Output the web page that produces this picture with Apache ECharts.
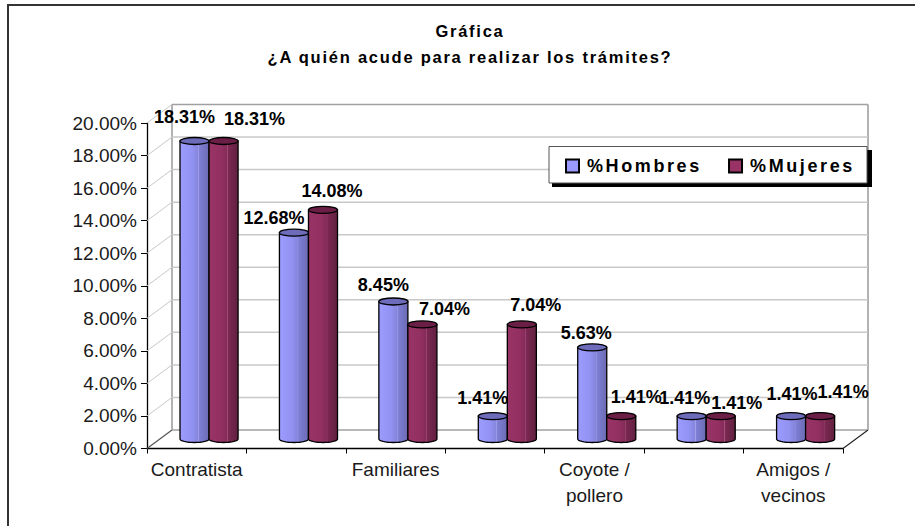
<!DOCTYPE html>
<html><head><meta charset="utf-8">
<style>
html,body{margin:0;padding:0;background:#fff}
#c{width:915px;height:526px}
text[style*="16.5px"]{letter-spacing:1.75px}
text[style*="18.01px"]{letter-spacing:2.6px}
</style>
<script src="https://cdn.jsdelivr.net/npm/echarts@6/dist/echarts.min.js"></script>
</head><body><div id="c"></div>
<script>
const categories = ['Contratista', '', 'Familiares', '', 'Coyote /\npollero', '', 'Amigos /\nvecinos'];
const hombres = [18.31, 12.68, 8.45, 1.41, 5.63, 1.41, 1.41];
const mujeres = [18.31, 14.08, 7.04, 7.04, 1.41, 1.41, 1.41];
const wallTicks = [0, 2, 4, 6, 8, 10, 12, 14, 16, 18, 20];
const titleText = 'Gráfica\n¿A quién acude para realizar los trámites?';

const FONT = '"Liberation Sans", Arial, sans-serif';
const nudgeH = [[-10,-25],[-20,-16],[-10,-17],[-10,-19],[-6,-15],[-7,-19],[1,-23]];
const nudgeM = [[31,-23],[9,-20],[22,-16],[14,-20],[15,-20],[16,-14],[23,-25]];

const G = echarts.graphic;
const gradH = () => new G.LinearGradient(0,0,1,0,[
  {offset:0,color:'#9c9cff'},{offset:.42,color:'#9292f2'},{offset:.62,color:'#8585dc'},
  {offset:.63,color:'#a4a4ec'},{offset:.66,color:'#7f7fd6'},{offset:1,color:'#6a6ab2'}]);
const gradM = () => new G.LinearGradient(0,0,1,0,[
  {offset:0,color:'#993366'},{offset:.42,color:'#933062'},{offset:.62,color:'#842b58'},
  {offset:.63,color:'#a5537e'},{offset:.66,color:'#7c2852'},{offset:1,color:'#60203f'}]);

function cylinder(isM, nudges){
  return function(params, api){
    const i = api.value(0), v = api.value(1);
    const band = api.size([1,0])[0];
    const w = band * 0.292;
    const c = api.coord([i, v]);
    const base = api.coord([i, 0]);
    const dOff = band * 0.124, lift = 9.5, ry = 3.5;
    const x0 = c[0] + dOff + (isM ? 0 : -w), x1 = x0 + w, xc = x0 + w/2;
    const top = c[1] - lift, bot = base[1] - lift;
    const pts = [[x0, top], [x0, bot]];
    for (let k = 1; k < 16; k++) {
      const t = Math.PI * k / 16;
      pts.push([xc - Math.cos(t) * w/2, bot + Math.sin(t) * ry]);
    }
    pts.push([x1, bot], [x1, top]);
    const n = nudges[i];
    return {type:'group', children:[
      {type:'polygon', shape:{points:pts},
       style:{fill:isM?gradM():gradH(), stroke:'#000', lineWidth:1.3}},
      {type:'ellipse', shape:{cx:xc, cy:top, rx:w/2, ry:ry},
       style:{fill:isM?'#6b1f47':'#6c6cba', stroke:'#000', lineWidth:1.3}},
      {type:'text', z2:50, style:{x:xc+n[0], y:top+n[1]+1, text:v.toFixed(2)+'%', align:'center', verticalAlign:'middle',
        font:'bold 18px '+FONT, fill:'#000'}}
    ]};
  };
}

function wall(params, api){
  const v = api.value(0);
  const p = api.coord([0, v]);
  const band = api.size([1,0])[0];
  const dx = 25, dy = -18.5;
  const xL = p[0] - band/2, xR = xL + band*categories.length;
  const y = p[1];
  const isEdge = v === 0;
  const children = [
    {type:'line', shape:{x1:xL, y1:y, x2:xL+dx, y2:y+dy},
      style:{stroke:isEdge?'#555':'#c8c8c8', lineWidth:isEdge?1.2:1}},
    {type:'line', shape:{x1:xL+dx, y1:y+dy, x2:xR+dx, y2:y+dy},
      style:{stroke:isEdge||v===20?'#a0a0a0':'#c8c8c8', lineWidth:1.5}}
  ];
  if (isEdge) {
    const yT = api.coord([0, 20])[1];
    children.push(
      {type:'line', shape:{x1:xR, y1:y, x2:xR+dx, y2:y+dy}, style:{stroke:'#222', lineWidth:1.1}},
      {type:'line', shape:{x1:xL+dx, y1:y+dy, x2:xL+dx, y2:yT+dy}, style:{stroke:'#999', lineWidth:1.5}},
      {type:'line', shape:{x1:xR+dx, y1:y+dy, x2:xR+dx, y2:yT+dy}, style:{stroke:'#999', lineWidth:1.5}}
    );
  }
  return {type:'group', children};
}

const chart = echarts.init(document.getElementById('c'), null, {renderer:'svg', width:915, height:526});
chart.setOption({
  animation:false,
  backgroundColor:'#fff',
  title:{text:titleText, left:465, top:13, textAlign:'center',
    textStyle:{fontFamily:FONT, fontWeight:'bold', fontSize:'16.5px', lineHeight:26, color:'#000'}},
  grid:{left:147, top:123, width:696, height:325.5},
  legend:{data:['%Hombres','%Mujeres'], left:565, top:157, padding:0, itemWidth:13, itemHeight:13, itemGap:47, z:20,
    icon:'rect', selectedMode:false,
    textStyle:{fontFamily:FONT, fontWeight:'bold', fontSize:'18.01px', color:'#000', padding:[0,0,0,3]}},
  xAxis:{type:'category', data:categories,
    axisLine:{lineStyle:{color:'#000', width:1.3}},
    axisTick:{show:true, length:5, interval:0, lineStyle:{color:'#000', width:1}},
    axisLabel:{interval:0, margin:8, fontFamily:FONT, fontSize:19, lineHeight:26, color:'#1a1a1a'}},
  yAxis:{type:'value', min:0, max:20, interval:2,
    axisLine:{show:true, lineStyle:{color:'#000', width:1.3}},
    axisTick:{show:true, length:6, lineStyle:{color:'#000', width:1}},
    axisLabel:{margin:10, fontFamily:FONT, fontSize:19, color:'#1a1a1a', formatter:v=>v.toFixed(2)+'%'},
    splitLine:{show:false}},
  graphic:[
    {type:'line', z:1, shape:{x1:8,y1:5,x2:915,y2:5}, style:{stroke:'#333',lineWidth:2}},
    {type:'line', z:1, shape:{x1:8,y1:4,x2:8,y2:526}, style:{stroke:'#333',lineWidth:2}},
    {type:'rect', z:15, shape:{x:552,y:150,width:320,height:37}, style:{fill:'#000'}},
    {type:'rect', z:16, shape:{x:549,y:146.5,width:318,height:36.5}, style:{fill:'#fff',stroke:'#555',lineWidth:1}}
  ],
  series:[
    {type:'custom', name:'wall', z:1, silent:true, renderItem:wall, data:wallTicks.map(v=>[v]), encode:{y:0}, clip:false},
    {type:'custom', name:'%Hombres', z:3, renderItem:cylinder(false,nudgeH), clip:false,
      itemStyle:{color:'#9999ff',borderColor:'#000',borderWidth:1},
      encode:{x:0,y:1}, data:hombres.map((v,i)=>[i,v])},
    {type:'custom', name:'%Mujeres', z:4, renderItem:cylinder(true,nudgeM), clip:false,
      itemStyle:{color:'#993366',borderColor:'#000',borderWidth:1},
      encode:{x:0,y:1}, data:mujeres.map((v,i)=>[i,v])}
  ]
});
</script></body></html>
